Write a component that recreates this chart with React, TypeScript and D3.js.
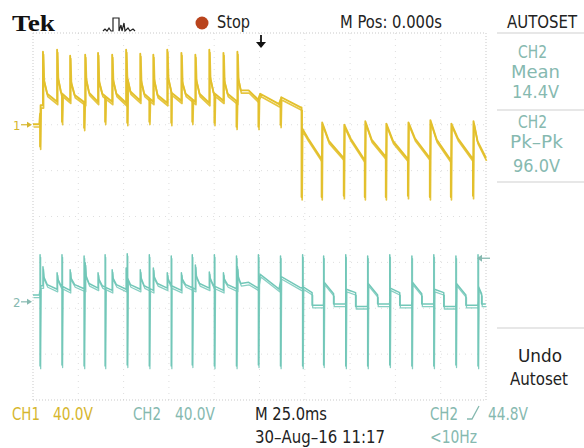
import React from "react";
import * as d3 from "d3";

// ---------- data (times in ms, voltages in V) ----------
const timeDomain = [-125, 125];
const ch1VoltsPerDiv = 40;
const ch2VoltsPerDiv = 40;
const ch1PositionDiv = 2.0;
const ch2PositionDiv = -1.86;

// CH1 – first half: fast upward spikes
const ch1UpTimes = [-119.5, -111.7, -104.5, -96.2, -89.1, -81.3, -73.6, -65.8, -58.6, -50.9, -43.1, -35.4, -27.7, -19.9, -12.2];
const ch1UpPeaks = [63.6, 65.4, 60.1, 61.0, 62.7, 61.0, 65.4, 61.9, 61.0, 65.4, 62.7, 61.0, 65.4, 62.7, 63.6];
const ch1UpKnees = [40, 42, 38, 41, 39, 40, 43, 39, 40, 42, 38, 40, 42, 39, 41];
const ch1UpMids = [27, 28, 26, 28, 27, 27, 29, 27, 26, 28, 27, 27, 28, 27, 30];
const ch1UpValleys = [20, 21, 19, 20, 20, 19, 21, 20, 19, 21, 20, 19, 21, 20];
const ch1PreLevel = 0.5;
const ch1StartLevel = 17;
const ch1TailTimes = [-6, -0.8, 0.4, 10.8, 12.0, 23.0];
const ch1TailValues = [30, 22, 27, 18, 24, 15];
// CH1 – short dips
const ch1DipTimes = [-121.1, -109.0, -96.8, -85.2, -73.0, -60.8, -48.7, -37.1, -24.9, -12.7, -0.6, 11.6];
const ch1DipLows = [-19, 2.6, -2.6, 2.6, 1.7, 2.6, 1.7, 2.6, 1.7, -1.7, -1.7, 0];
// CH1 – second half: deep drops
const ch1DropTimes = [23.2, 34.3, 46.5, 58.1, 69.7, 81.9, 94.0, 105.6, 117.8];
const ch1DropLows = [-63, -63, -62, -63, -63, -62, -63, -63, -62];
const ch1DropTops = [-3, 2, 0, 3, 1, 2, 4, 1, 3];
const ch1DropMids = [-12, -14, -12, -13, -14, -12, -13, -12, -14];
const ch1DropValleys = [-30, -29, -31, -28, -30, -29, -31, -30, -29];

// CH2 – first half ripple
const ch2UpPeaks = [30.5, 25.3, 27.9, 34.0, 25.3, 27.9, 29.6, 27.9, 29.6, 25.3, 25.3, 32.2, 26.1, 25.3, 30.5];
const ch2UpKnees = [22, 20, 21, 23, 20, 21, 22, 21, 22, 20, 20, 23, 21, 20, 22];
const ch2UpMids = [15, 14, 15, 16, 14, 15, 15, 14, 16, 14, 15, 16, 14, 15, 16];
const ch2UpValleys = [11, 10, 11, 12, 10, 11, 11, 10, 12, 10, 11, 12, 10, 11];
const ch2PreLevel = 6;
const ch2StartLevel = 14;
const ch2TailTimes = [-6, -0.8, 0.4, 10.8, 12.0, 23.0];
const ch2TailValues = [17, 12, 24, 11, 22, 12];
// CH2 – long spikes
const ch2SpikeTimes = [-121.1, -109.0, -96.8, -85.2, -73.0, -60.8, -48.7, -37.1, -24.9, -12.7, -0.6, 11.6, 23.8, 35.4, 47.6, 59.7, 71.9, 84.1, 96.2, 108.4, 120.6];
const ch2SpikeTops = [41, 41, 40, 41, 42, 41, 40, 41, 41, 40, 41, 40, 41, 40, 41, 40, 41, 40, 41, 40, 41];
const ch2SpikeBottoms = [-56, -55, -56, -56, -55, -56, -56, -55, -56, -56, -55, -56, -56, -55, -56, -56, -55, -56, -56, -55, -56];
// CH2 – second half steps
const ch2RightStarts = [23.8, 35.4, 47.6, 59.7, 71.9, 84.1, 96.2, 108.4, 120.6];
const ch2RightTops = [13, 17, 11, 16, 12, 17, 11, 16, 13];
const ch2RightMids = [8, 7, 8, 6, 8, 7, 8, 6, 7];
const ch2RightLows = [-3, -2, -4, -2, -3, -2, -4, -3, -2];

const ch1Color = "#e3c02c";
const ch2Color = "#72c7b8";
const ch1Text = "#d6b62e";
const ch2Text = "#86b9b0";
const FONT = "'Liberation Sans Narrow', 'DejaVu Sans Condensed', 'Liberation Sans', sans-serif";

type P = [number, number];

function sawtooth(times: number[], peaks: number[], knees: number[], mids: number[], valleys: number[], startLevel: number, tailT: number[], tailV: number[]): P[] {
  const pts: P[] = [];
  times.forEach((t, i) => {
    const prev = i === 0 ? startLevel : valleys[i - 1];
    const next = i < times.length - 1 ? times[i + 1] : tailT[0];
    const dur = next - t;
    pts.push([t, prev], [t, peaks[i]], [t + 0.4, knees[i]], [t + 0.3 * dur, mids[i]]);
    if (i < times.length - 1) pts.push([next, valleys[i]]);
  });
  tailT.forEach((t, i) => pts.push([t, tailV[i]]));
  return pts;
}

function insertSpikes(base: P[], times: number[], vals: number[][]): P[] {
  const out = base.slice();
  times.forEach((te, k) => {
    let i = -1;
    for (let j = 0; j < out.length - 1; j++) {
      if (out[j][0] <= te && out[j + 1][0] > te) { i = j; break; }
    }
    if (i < 0) return;
    const a = out[i], b = out[i + 1];
    const lv = (t: number) => a[1] + (b[1] - a[1]) * (t - a[0]) / (b[0] - a[0]);
    const te2 = Math.min(te + 0.3, b[0]);
    const ins: P[] = [[te, lv(te)], ...vals[k].map(v => [te, v] as P), [te2, lv(te2)]];
    out.splice(i + 1, 0, ...ins);
  });
  return out;
}

function buildCh1(): P[] {
  let pts: P[] = [[timeDomain[0], ch1PreLevel], [-121.5, ch1PreLevel], [-120.8, ch1StartLevel]];
  pts = pts.concat(sawtooth(ch1UpTimes, ch1UpPeaks, ch1UpKnees, ch1UpMids, ch1UpValleys, ch1StartLevel, ch1TailTimes, ch1TailValues));
  pts = insertSpikes(pts, ch1DipTimes, ch1DipLows.map(v => [v]));
  ch1DropTimes.forEach((t, i) => {
    const next = i < ch1DropTimes.length - 1 ? ch1DropTimes[i + 1] : timeDomain[1];
    const dur = next - t;
    pts.push([t, i === 0 ? ch1TailValues[ch1TailValues.length - 1] : ch1DropValleys[i - 1]]);
    pts.push([t, ch1DropLows[i]], [t + 0.3, ch1DropTops[i]], [t + 0.3 + 0.3 * dur, ch1DropMids[i]], [next, ch1DropValleys[i]]);
  });
  return pts;
}

function buildCh2(): P[] {
  let pts: P[] = [[timeDomain[0], ch2PreLevel], [-121.5, ch2PreLevel], [-120.8, ch2StartLevel]];
  pts = pts.concat(sawtooth(ch1UpTimes, ch2UpPeaks, ch2UpKnees, ch2UpMids, ch2UpValleys, ch2StartLevel, ch2TailTimes, ch2TailValues));
  ch2RightStarts.forEach((s, i) => {
    const e = i < ch2RightStarts.length - 1 ? ch2RightStarts[i + 1] : timeDomain[1];
    const dur = e - s;
    pts.push([s + 0.3, ch2RightTops[i]], [s + 0.45 * dur, ch2RightMids[i]], [s + 0.45 * dur, ch2RightLows[i]], [e - 0.1, ch2RightLows[i]]);
  });
  pts.sort((a, b) => a[0] - b[0]);
  return insertSpikes(pts, ch2SpikeTimes, ch2SpikeTimes.map((_, i) => [ch2SpikeTops[i], ch2SpikeBottoms[i]]));
}

function T(props: { x: number; y: number; w: number; fill: string; size?: number; anchor?: string; children: React.ReactNode }) {
  const { x, y, w, fill, size = 18, anchor = "start", children } = props;
  return (
    <text x={x} y={y} fill={fill} fontFamily={FONT} fontSize={size} textAnchor={anchor} textLength={w} lengthAdjust="spacingAndGlyphs">
      {children}
    </text>
  );
}

export default function App() {
  const left = 33, right = 486, top = 33, bottom = 400;
  const x = d3.scaleLinear().domain(timeDomain).range([left, right]);
  const y1 = d3.scaleLinear().domain([(-4 - ch1PositionDiv) * ch1VoltsPerDiv, (4 - ch1PositionDiv) * ch1VoltsPerDiv]).range([bottom, top]);
  const y2 = d3.scaleLinear().domain([(-4 - ch2PositionDiv) * ch2VoltsPerDiv, (4 - ch2PositionDiv) * ch2VoltsPerDiv]).range([bottom, top]);
  const ch1 = buildCh1();
  const ch2 = buildCh2();
  const line1 = d3.line<P>().x(d => x(d[0])).y(d => y1(d[1]));
  const line2 = d3.line<P>().x(d => x(d[0])).y(d => y2(d[1]));
  const xTicks = d3.range(0, 11).map(i => left + (right - left) * i / 10);
  const yTicks = d3.range(0, 9).map(i => top + (bottom - top) * i / 8);
  const g1 = y1(0), g2 = y2(0);
  const trigY = y2(38);

  return (
    <svg width={584} height={448} style={{ position: "absolute", left: 0, top: 0, background: "#fff" }}>
      <rect width={584} height={448} fill="#fff" />
      {/* graticule */}
      {xTicks.map((v, i) => (
        <line key={"gx" + i} x1={v} x2={v} y1={top} y2={bottom} stroke={i === 0 || i === 10 ? "#c9c9c9" : "#dedede"} strokeDasharray={i === 0 || i === 10 ? "1 2" : "1 5"} />
      ))}
      {yTicks.map((v, i) => (
        <line key={"gy" + i} x1={left} x2={right} y1={v} y2={v} stroke={i === 0 || i === 8 ? "#c9c9c9" : "#dedede"} strokeDasharray={i === 0 || i === 8 ? "1 2" : "1 5"} />
      ))}
      {/* right panel separators */}
      {[33, 110, 182, 328].map((v, i) => (
        <line key={"sep" + i} x1={497} x2={584} y1={v} y2={v} stroke="#cfcfcf" />
      ))}
      {/* traces */}
      <g fill="none" strokeLinejoin="round">
        <path d={line2(ch2) || ""} stroke={ch2Color} strokeWidth={1.3} transform="translate(0.6,2.6)" opacity={0.85} />
        <path d={line2(ch2) || ""} stroke={ch2Color} strokeWidth={1.5} />
        <path d={line1(ch1) || ""} stroke={ch1Color} strokeWidth={1.7} transform="translate(0.6,2.8)" opacity={0.9} />
        <path d={line1(ch1) || ""} stroke={ch1Color} strokeWidth={1.9} />
      </g>
      {/* channel markers */}
      <text x={13} y={g1 + 5} fontFamily={FONT} fontSize={13} fill={ch1Text}>1</text>
      <path d={`M21,${g1} L29,${g1}`} stroke={ch1Text} strokeWidth={1.2} />
      <path d={`M27,${g1 - 3} L32,${g1} L27,${g1 + 3} Z`} fill={ch1Text} />
      <text x={13} y={g2 + 5} fontFamily={FONT} fontSize={13} fill={ch2Text}>2</text>
      <path d={`M21,${g2} L29,${g2}`} stroke={ch2Text} strokeWidth={1.2} />
      <path d={`M27,${g2 - 3} L32,${g2} L27,${g2 + 3} Z`} fill={ch2Text} />
      {/* trigger level arrow */}
      <path d={`M478,${trigY} L490,${trigY}`} stroke={ch2Text} strokeWidth={1.3} />
      <path d={`M477,${trigY} L482,${trigY - 3.5} L482,${trigY + 3.5} Z`} fill={ch2Text} />
      {/* trigger position arrow */}
      <path d="M261,35 L261,44" stroke="#111" strokeWidth={1.8} />
      <path d="M256,42 L266,42 L261,48 Z" fill="#111" />
      {/* header */}
      <text x={12} y={31} fontFamily="'Liberation Serif', 'DejaVu Serif', serif" fontWeight="bold" fontSize={24} fill="#111" textLength={43} lengthAdjust="spacingAndGlyphs">Tek</text>
      <path d="M103,31 L105,29 L107,31 L109,28 L111,31 L113,31 L113,18 L119,18 L119,31 L121,25 L122,31 L124,23 L125,31 L128,28 L130,31 L133,29 L135,31" fill="none" stroke="#222" strokeWidth={1.2} />
      <circle cx={202} cy={23} r={6.5} fill="#b9441d" />
      <T x={217} y={28} w={33} fill="#222">Stop</T>
      <T x={340} y={28} w={102} fill="#222">M Pos: 0.000s</T>
      <T x={507} y={28} w={70} fill="#222">AUTOSET</T>
      {/* right panel */}
      <T x={518} y={58} w={29} fill={ch2Text} size={17}>CH2</T>
      <T x={511} y={78} w={49} fill={ch2Text} size={17}>Mean</T>
      <T x={512} y={98} w={47} fill={ch2Text} size={17}>14.4V</T>
      <T x={518} y={128} w={29} fill={ch2Text} size={17}>CH2</T>
      <T x={510} y={148} w={53} fill={ch2Text} size={17}>Pk–Pk</T>
      <T x={513} y={172} w={47} fill={ch2Text} size={17}>96.0V</T>
      <T x={518} y={362} w={44} fill="#222">Undo</T>
      <T x={510} y={385} w={58} fill="#222">Autoset</T>
      {/* footer */}
      <T x={12} y={420} w={28} fill={ch1Text}>CH1</T>
      <T x={53} y={420} w={40} fill={ch1Text}>40.0V</T>
      <T x={133} y={420} w={28} fill={ch2Text}>CH2</T>
      <T x={175} y={420} w={40} fill={ch2Text}>40.0V</T>
      <T x={255} y={420} w={72} fill="#222">M 25.0ms</T>
      <T x={255} y={443} w={130} fill="#222">30–Aug–16 11:17</T>
      <T x={430} y={420} w={28} fill={ch2Text}>CH2</T>
      <T x={488} y={420} w={40} fill={ch2Text}>44.8V</T>
      <T x={430} y={443} w={47} fill={ch2Text}>&lt;10Hz</T>
      <path d="M467,419 L472,419 L479,406" fill="none" stroke={ch2Text} strokeWidth={1.3} />
    </svg>
  );
}
